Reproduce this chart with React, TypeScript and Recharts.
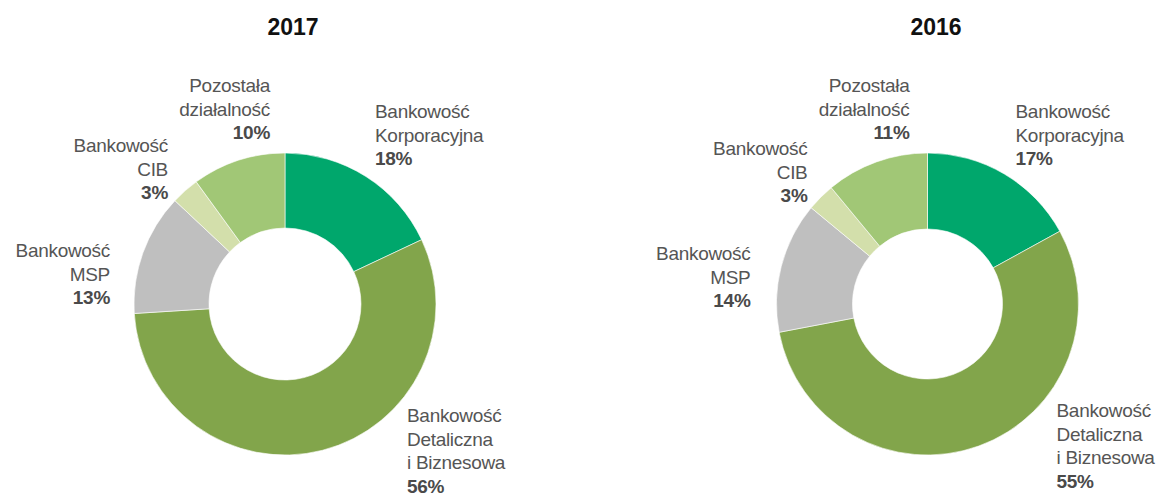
import React from 'react';
import { PieChart, Pie, Cell } from 'recharts';

const categories = [
  'Bankowość\nKorporacyjna',
  'Bankowość\nDetaliczna\ni Biznesowa',
  'Bankowość\nMSP',
  'Bankowość\nCIB',
  'Pozostała\ndziałalność',
];
const values2017 = [18, 56, 13, 3, 10];
const values2016 = [17, 55, 14, 3, 11];
const years = ['2017', '2016'];

const colors = ['#00a76c', '#82a54b', '#bfbfbf', '#d3dfab', '#a1c776'];

// label placement relative to each donut's centre
const leftLabelPos = [
  { dx: 90, dy: -186, anchor: 'start' },
  { dx: 122, dy: 118, anchor: 'start' },
  { dx: -175, dy: -47, anchor: 'end' },
  { dx: -117, dy: -152, anchor: 'end' },
  { dx: -15, dy: -212, anchor: 'end' },
];
const rightLabelPos = [
  { dx: 88, dy: -186, anchor: 'start' },
  { dx: 129, dy: 113, anchor: 'start' },
  { dx: -177, dy: -44, anchor: 'end' },
  { dx: -120, dy: -149, anchor: 'end' },
  { dx: -18, dy: -212, anchor: 'end' },
];

const toRows = (values: number[]) =>
  categories.map((name, i) => ({ name, value: values[i] }));

const LINE_H = 23.5;
const FONT = 'Liberation Sans, Arial, sans-serif';

const makeLabel = (layout: any[]) => (props: any) => {
  const { cx, cy, index, payload, value } = props;
  const pos = layout[index];
  const name: string = (payload && payload.name) || categories[index];
  const lines = name.split('\n');
  const x = cx + pos.dx;
  const y0 = cy + pos.dy;
  return (
    <text
      x={x}
      y={y0}
      textAnchor={pos.anchor}
      fontFamily={FONT}
      fontSize={19}
      fill="#555555"
      style={{ letterSpacing: '-0.3px' }}
    >
      {lines.map((line, i) => (
        <tspan key={i} x={x} y={y0 + i * LINE_H}>
          {line}
        </tspan>
      ))}
      <tspan x={x} y={y0 + lines.length * LINE_H} fontWeight="bold" fill="#4a4a4a">
        {value}%
      </tspan>
    </text>
  );
};

export default function App() {
  const data2017 = toRows(values2017);
  const data2016 = toRows(values2016);
  return (
    <div style={{ position: 'absolute', left: 0, top: 0, width: 1158, height: 494, background: '#fff' }}>
      <PieChart width={1158} height={494} margin={{ top: 0, right: 0, bottom: 0, left: 0 }}>
        <text x={293} y={35} textAnchor="middle" fontFamily={FONT} fontSize={23} fontWeight="bold" fill="#111">
          {years[0]}
        </text>
        <text x={936} y={35} textAnchor="middle" fontFamily={FONT} fontSize={23} fontWeight="bold" fill="#111">
          {years[1]}
        </text>
        <Pie
          data={data2017}
          dataKey="value"
          nameKey="name"
          cx={285}
          cy={304}
          innerRadius={76}
          outerRadius={151}
          startAngle={90}
          endAngle={-270}
          stroke="#ffffff"
          strokeWidth={0.6}
          label={makeLabel(leftLabelPos)}
          labelLine={false}
          isAnimationActive={false}
        >
          {data2017.map((_, i) => (
            <Cell key={i} fill={colors[i]} />
          ))}
        </Pie>
        <Pie
          data={data2016}
          dataKey="value"
          nameKey="name"
          cx={927.5}
          cy={304}
          innerRadius={75}
          outerRadius={151}
          startAngle={90}
          endAngle={-270}
          stroke="#ffffff"
          strokeWidth={0.6}
          label={makeLabel(rightLabelPos)}
          labelLine={false}
          isAnimationActive={false}
        >
          {data2016.map((_, i) => (
            <Cell key={i} fill={colors[i]} />
          ))}
        </Pie>
      </PieChart>
    </div>
  );
}
